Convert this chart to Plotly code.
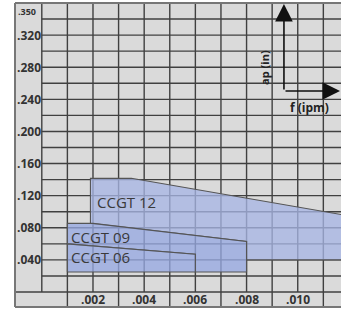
import plotly.graph_objects as go

# ---- data ----
# visible outline of each machining-range region (f in ipm, ap in inches)
ccgt12_f = [0.0019, 0.0019, 0.0035, 0.0120, 0.0120, 0.0080, 0.0080, 0.0020, 0.0019]
ccgt12_ap = [0.0855, 0.1416, 0.1416, 0.0949, 0.0400, 0.0400, 0.0630, 0.0855, 0.0855]

ccgt09_f = [0.0010, 0.0010, 0.0020, 0.0080, 0.0080, 0.0060, 0.0060, 0.0010]
ccgt09_ap = [0.0600, 0.0855, 0.0855, 0.0630, 0.0250, 0.0250, 0.0470, 0.0600]

ccgt06_f = [0.0010, 0.0010, 0.0060, 0.0060, 0.0010]
ccgt06_ap = [0.0250, 0.0600, 0.0470, 0.0250, 0.0250]

series_names = ["CCGT 12", "CCGT 09", "CCGT 06"]
label_f = [0.00208, 0.00106, 0.00106]
label_ap = [0.112, 0.0685, 0.0436]

y_tick_vals = [0.04, 0.08, 0.12, 0.16, 0.20, 0.24, 0.28, 0.32]
y_tick_text = [".040", ".080", ".120", ".160", ".200", ".240", ".280", ".320"]
y_top_val = 0.35
y_top_text = ".350"
x_tick_vals = [0.002, 0.004, 0.006, 0.008, 0.010]
x_tick_text = [".002", ".004", ".006", ".008", ".010"]
x_grid = [i / 1000 for i in range(0, 12)]
x_cells = [0.001, 0.003, 0.005, 0.007, 0.009, 0.011]
y_grid = [i / 100 for i in range(2, 35, 2)]

X_MIN, X_MAX = -0.001047, 0.01169
Y_MIN, Y_MAX = -0.01868, 0.3600

BG = "#dadada"
GRID = "#404040"
OUT = "#555555"
FILL12 = "rgba(167,181,228,0.77)"
FILL09 = "rgba(150,168,225,0.77)"
TICKFONT = dict(family="Liberation Sans Narrow, Open Sans, sans-serif", size=12, color="#333333", weight="bold")

fig = go.Figure()
for fx, fy, fc, nm in [(ccgt12_f, ccgt12_ap, FILL12, series_names[0]),
                       (ccgt09_f, ccgt09_ap, FILL09, series_names[1]),
                       (ccgt06_f, ccgt06_ap, FILL09, series_names[2])]:
    fig.add_trace(go.Scatter(x=fx, y=fy, mode="lines", fill="toself", fillcolor=fc,
                             line=dict(color=OUT, width=1.1), name=nm, hoverinfo="skip",
                             showlegend=False))

shapes = []
# vertical grid lines (above the label row)
for gx in x_grid:
    shapes.append(dict(type="line", xref="x", yref="y", x0=gx, x1=gx, y0=0, y1=Y_MAX,
                       line=dict(color=GRID, width=1.4), layer="below"))
# horizontal grid lines
for gy in y_grid:
    shapes.append(dict(type="line", xref="x", yref="y", x0=0, x1=X_MAX, y0=gy, y1=gy,
                       line=dict(color=GRID, width=1.4), layer="below"))
shapes.append(dict(type="line", xref="x", yref="y", x0=X_MIN, x1=X_MAX, y0=0, y1=0,
                   line=dict(color=GRID, width=1.4), layer="below"))
# separators in the label row
for cx in x_cells:
    shapes.append(dict(type="line", xref="x", yref="y", x0=cx, x1=cx, y0=Y_MIN, y1=0,
                       line=dict(color=GRID, width=1.4), layer="below"))
# frame (left, top, bottom)
for x0, y0, x1, y1 in [(0, 0, 0, 1), (0, 1, 1, 1), (0, 0, 1, 0)]:
    shapes.append(dict(type="line", xref="paper", yref="paper", x0=x0, y0=y0, x1=x1, y1=y1,
                       line=dict(color="#777777", width=2)))

ann = []
for v, t in zip(y_tick_vals, y_tick_text):
    ann.append(dict(x=X_MIN, y=v, xref="x", yref="y", text=t, showarrow=False,
                    xanchor="left", yanchor="middle", xshift=0, font=TICKFONT))
ann.append(dict(x=X_MIN, y=y_top_val, xref="x", yref="y", text=y_top_text, showarrow=False,
                xanchor="left", yanchor="middle", xshift=1,
                font=dict(TICKFONT, size=9)))
for v, t in zip(x_tick_vals, x_tick_text):
    ann.append(dict(x=v, y=(Y_MIN + 0) / 2, xref="x", yref="y", text=t, showarrow=False,
                    xanchor="center", yanchor="middle", font=TICKFONT))
for nm, lx, ly in zip(series_names, label_f, label_ap):
    ann.append(dict(x=lx, y=ly, xref="x", yref="y", text=nm, showarrow=False,
                    xanchor="left", yanchor="middle",
                    font=dict(family="Open Sans, sans-serif", size=15, color="#3a3a3a")))

# axis legend arrows (paper coordinates)
ann.append(dict(x=0.825, y=0.997, xref="paper", yref="paper", text="", showarrow=True,
                ax=0, ay=87, arrowhead=2, arrowsize=2.2, arrowwidth=1.6, arrowcolor="#111111"))
ann.append(dict(x=1.0, y=0.7105, xref="paper", yref="paper", text="", showarrow=True,
                ax=-57, ay=0, arrowhead=2, arrowsize=2.2, arrowwidth=1.6, arrowcolor="#111111"))
ann.append(dict(x=0.763, y=0.789, xref="paper", yref="paper", text="ap (in)", showarrow=False,
                textangle=-90, xanchor="center", yanchor="middle",
                font=dict(family="Open Sans, sans-serif", size=11, color="#222222", weight="bold")))
ann.append(dict(x=0.902, y=0.655, xref="paper", yref="paper", text="f (ipm)", showarrow=False,
                xanchor="center", yanchor="middle",
                font=dict(family="Open Sans, sans-serif", size=12, color="#222222", weight="bold")))

fig.update_layout(
    width=341, height=309,
    margin=dict(l=15, r=0, t=3, b=2),
    paper_bgcolor="white", plot_bgcolor=BG,
    xaxis=dict(range=[X_MIN, X_MAX], showgrid=False, zeroline=False, showticklabels=False,
               ticks="", fixedrange=True),
    yaxis=dict(range=[Y_MIN, Y_MAX], showgrid=False, zeroline=False, showticklabels=False,
               ticks="", fixedrange=True),
    shapes=shapes, annotations=ann, showlegend=False,
)
fig.write_html("out.html", config={"displayModeBar": False},
               post_script="document.body.style.margin='0';document.body.style.overflow='hidden';")
